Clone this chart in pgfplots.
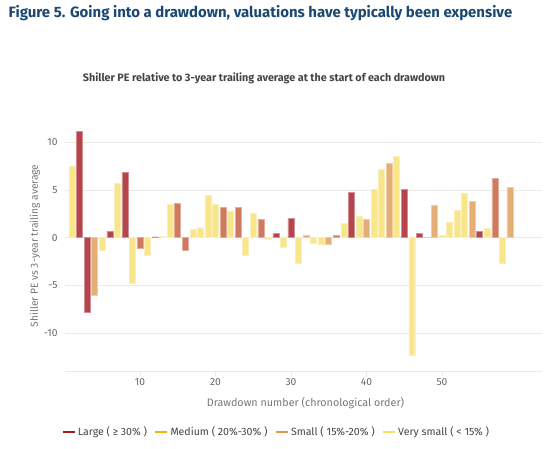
\documentclass[border=0pt]{standalone}
\usepackage{pgfplots}
\pgfplotsset{compat=1.18}
\usepackage{fontspec}
\setmainfont{Fira Sans}
\definecolor{titleblue}{HTML}{1B4872}
\definecolor{subgray}{HTML}{444444}
\definecolor{lblgray}{HTML}{777777}
\definecolor{tickgray}{HTML}{666666}
\definecolor{gridgray}{HTML}{EAEAEA}
\definecolor{cR}{HTML}{B5454B}
\definecolor{cT}{HTML}{CF7A5E}
\definecolor{cS}{HTML}{E5AE74}
\definecolor{cY}{HTML}{F9E58A}
\definecolor{lR}{HTML}{A51C1C}
\definecolor{lM}{HTML}{F0B400}
\definecolor{lS}{HTML}{DC9A50}
\definecolor{lY}{HTML}{F7DC6C}
\begin{document}
\begin{tikzpicture}
\path[use as bounding box] (0,0) rectangle (558bp,-449bp);
\node[font=\bfseries\fontsize{15}{18}\selectfont, text=titleblue, anchor=center] at (260.5bp,-13bp) {Figure 5. Going into a drawdown, valuations have typically been expensive};
\node[font=\bfseries\fontsize{10.8}{12}\selectfont, text=subgray, anchor=center] at (264bp,-78bp) {Shiller PE relative to 3-year trailing average at the start of each drawdown};
\node[font=\fontsize{10.8}{12}\selectfont, text=lblgray, anchor=center] at (305.5bp,-403bp) {Drawdown number (chronological order)};
\node[font=\fontsize{10.3}{12}\selectfont, text=lblgray, anchor=center, rotate=90] at (35bp,-246bp) {Shiller PE vs 3-year trailing average};
\begin{axis}[
  at={(65bp,-371.5bp)}, anchor=south west,
  width=477bp, height=248bp, scale only axis,
  xmin=0.07, xmax=63.25, ymin=-14.05, ymax=12,
  axis x line*=bottom,
  axis y line*=left,
  y axis line style={draw=none},
  x axis line style={draw=gridgray, line width=0.8pt, -},
  xtick={10,20,30,40,50},
  ytick={-10,-5,0,5,10},
  ymajorgrids, grid style={draw=gridgray, line width=0.8pt},
  tick align=outside, major tick length=4bp,
  xtick style={draw=gridgray, line width=0.8pt},
  ytick style={draw=none},
  tick label style={font=\fontsize{10.3}{12}\selectfont, text=tickgray},
  /pgf/number format/assume math mode=true,
  clip=false,
  legend columns=4,
  legend style={at={(0.443,-0.244)}, anchor=center, draw=none, fill=none,
    font=\fontsize{10.6}{12}\selectfont, text=subgray,
    /tikz/every even column/.append style={column sep=5bp}},
  legend image code/.code={\draw[line width=2.5bp] (0bp,0bp) -- (12bp,0bp);},
]
\addlegendimage{lR}\addlegendentry{Large ( ≥ 30\% )}
\addlegendimage{lM}\addlegendentry{Medium ( 20\%-30\% )}
\addlegendimage{lS}\addlegendentry{Small ( 15\%-20\% )}
\addlegendimage{lY}\addlegendentry{Very small ( < 15\% )}
% Large
\addplot[ybar, bar width=0.79, bar shift=0pt, fill=cR, draw=cR!60!white, line width=0.5pt, forget plot] coordinates {
(2,11.2) (3,-7.85) (6,0.7) (8,6.9) (12,0.1) (28,0.45) (30,2.03) (38,4.79) (45,5.07) (47,0.42) (55,0.63)};
% terracotta
\addplot[ybar, bar width=0.79, bar shift=0pt, fill=cT, draw=cT!60!white, line width=0.5pt, forget plot] coordinates {
(10,-1.15) (15,3.6) (16,-1.33) (21,3.2) (23,3.2) (26,1.9) (36,0.28) (57,6.26)};
% small
\addplot[ybar, bar width=0.79, bar shift=0pt, fill=cS, draw=cS!60!white, line width=0.5pt, forget plot] coordinates {
(4,-6.08) (32,0.28) (35,-0.66) (40,1.96) (43,7.83) (48,0.05) (49,3.43) (54,3.85) (59,5.31)};
% very small
\addplot[ybar, bar width=0.79, bar shift=0pt, fill=cY, draw=cY!60!white, line width=0.5pt, forget plot] coordinates {
(1,7.55) (5,-1.36) (7,5.7) (9,-4.83) (11,-1.89) (13,0.17) (14,3.57) (17,0.9) (18,1.05) (19,4.47) (20,3.53) (22,2.83) (24,-1.89) (25,2.6) (27,-0.17) (29,-1.0) (31,-2.7) (33,-0.56) (34,-0.73) (37,1.5) (39,2.3) (41,5.1) (42,7.17) (44,8.53) (46,-12.38) (50,0.28) (51,1.6) (52,2.87) (53,4.69) (56,1.01) (58,-2.73)};
\end{axis}
\end{tikzpicture}
\end{document}
